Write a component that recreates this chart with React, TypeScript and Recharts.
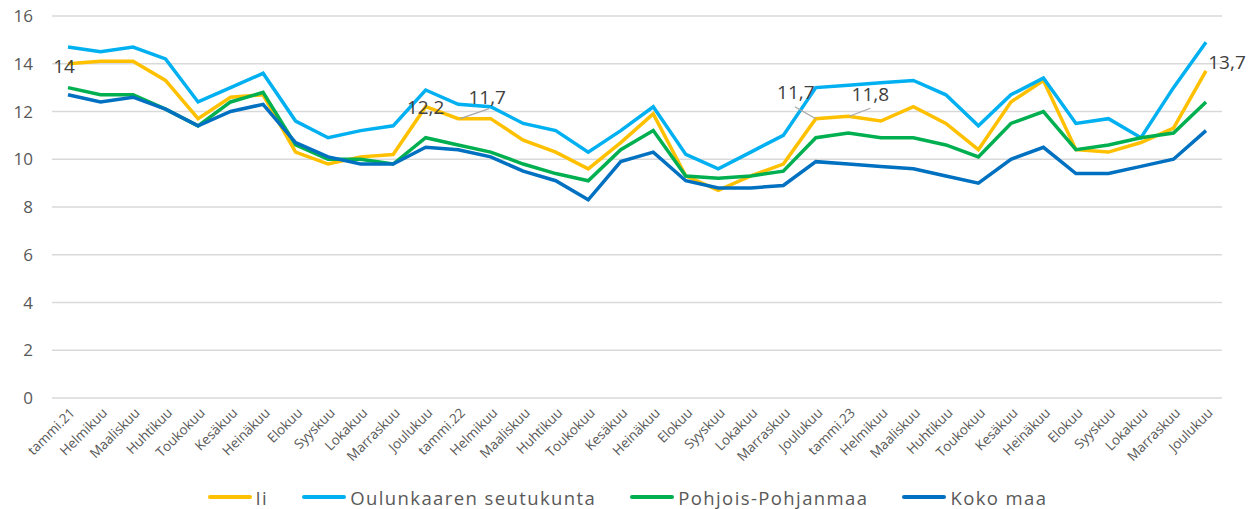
import React from "react";
import { LineChart, Line, XAxis, YAxis, CartesianGrid, Legend, LabelList } from "recharts";

const months = [
  "tammi.21", "Helmikuu", "Maaliskuu", "Huhtikuu", "Toukokuu", "Kesäkuu", "Heinäkuu", "Elokuu", "Syyskuu", "Lokakuu", "Marraskuu", "Joulukuu",
  "tammi.22", "Helmikuu", "Maaliskuu", "Huhtikuu", "Toukokuu", "Kesäkuu", "Heinäkuu", "Elokuu", "Syyskuu", "Lokakuu", "Marraskuu", "Joulukuu",
  "tammi.23", "Helmikuu", "Maaliskuu", "Huhtikuu", "Toukokuu", "Kesäkuu", "Heinäkuu", "Elokuu", "Syyskuu", "Lokakuu", "Marraskuu", "Joulukuu",
];

const ii = [
  14.0, 14.1, 14.1, 13.3, 11.7, 12.6, 12.7, 10.3, 9.8, 10.1, 10.2, 12.2,
  11.7, 11.7, 10.8, 10.3, 9.6, 10.7, 11.9, 9.3, 8.7, 9.3, 9.8, 11.7,
  11.8, 11.6, 12.2, 11.5, 10.4, 12.4, 13.3, 10.4, 10.3, 10.7, 11.3, 13.7,
];
const oulunkaari = [
  14.7, 14.5, 14.7, 14.2, 12.4, 13.0, 13.6, 11.6, 10.9, 11.2, 11.4, 12.9,
  12.3, 12.2, 11.5, 11.2, 10.3, 11.2, 12.2, 10.2, 9.6, 10.3, 11.0, 13.0,
  13.1, 13.2, 13.3, 12.7, 11.4, 12.7, 13.4, 11.5, 11.7, 10.9, 13.0, 14.9,
];
const pohjoisPohjanmaa = [
  13.0, 12.7, 12.7, 12.1, 11.4, 12.4, 12.8, 10.6, 10.0, 10.0, 9.8, 10.9,
  10.6, 10.3, 9.8, 9.4, 9.1, 10.4, 11.2, 9.3, 9.2, 9.3, 9.5, 10.9,
  11.1, 10.9, 10.9, 10.6, 10.1, 11.5, 12.0, 10.4, 10.6, 10.9, 11.1, 12.4,
];
const kokoMaa = [
  12.7, 12.4, 12.6, 12.1, 11.4, 12.0, 12.3, 10.7, 10.1, 9.8, 9.8, 10.5,
  10.4, 10.1, 9.5, 9.1, 8.3, 9.9, 10.3, 9.1, 8.8, 8.8, 8.9, 9.9,
  9.8, 9.7, 9.6, 9.3, 9.0, 10.0, 10.5, 9.4, 9.4, 9.7, 10.0, 11.2,
];
const yTicks = [0, 2, 4, 6, 8, 10, 12, 14, 16];
const labeledIndices = [0, 11, 12, 23, 24, 35];

const series = [
  { key: "ii", name: "Ii", color: "#FFC000" },
  { key: "oulunkaari", name: "Oulunkaaren seutukunta", color: "#00B0F0" },
  { key: "pp", name: "Pohjois-Pohjanmaa", color: "#00B050" },
  { key: "koko", name: "Koko maa", color: "#0070C0" },
];

const data = months.map((m, i) => ({
  month: m,
  ii: ii[i],
  oulunkaari: oulunkaari[i],
  pp: pohjoisPohjanmaa[i],
  koko: kokoMaa[i],
}));

const FONT = "'Open Sans', sans-serif";
const GREY = "#595959";

// label placement relative to the point (style only)
const labelStyle: Record<number, { dx: number; dy: number; leader?: [number, number, number, number] }> = {
  0: { dx: -4, dy: 3 },
  11: { dx: 0, dy: 1 },
  12: { dx: 29, dy: -21, leader: [2, 0, 31, -10] },
  23: { dx: -20, dy: -26, leader: [-21, -12, 0, 0] },
  24: { dx: 22, dy: -22, leader: [1, 0, 22, -8] },
  35: { dx: 21, dy: -9 },
};

const IiLabel = (props: any) => {
  const { x, y, value, index } = props;
  if (!labeledIndices.includes(index)) return null;
  const s = labelStyle[index];
  return (
    <g>
      {s.leader && (
        <line x1={x + s.leader[0]} y1={y + s.leader[1]} x2={x + s.leader[2]} y2={y + s.leader[3]} stroke="#A6A6A6" strokeWidth={1.2} />
      )}
      <text x={x + s.dx} y={y + s.dy} dy="0.35em" textAnchor="middle" fontSize={19} fontFamily={FONT} fill="#404040">
        {String(value).replace(".", ",")}
      </text>
    </g>
  );
};

const XTick = (props: any) => {
  const { x, y, payload } = props;
  return (
    <g transform={`translate(${x + 1},${y + 1})`}>
      <text x={0} y={0} dy="0.7em" textAnchor="end" transform="rotate(-45)" fontSize={13.5} fontFamily={FONT} fill={GREY}>
        {payload.value}
      </text>
    </g>
  );
};

const LegendContent = () => (
  <div style={{ display: "flex", justifyContent: "center", alignItems: "center", width: 1255, height: 24, fontFamily: FONT, fontSize: 18.5, color: GREY, letterSpacing: 1.4 }}>
    {series.map((s, i) => (
      <div key={s.key} style={{ display: "flex", alignItems: "center", marginLeft: i === 0 ? 0 : 34 }}>
        <div style={{ width: 44, height: 4, background: s.color, borderRadius: 2, marginRight: 4 }} />
        <span>{s.name}</span>
      </div>
    ))}
  </div>
);

export default function App() {
  return (
    <div style={{ position: "absolute", left: 0, top: 0, width: 1255, height: 509, background: "#fff" }}>
      <LineChart width={1255} height={509} data={data} margin={{ top: 16, right: 33, left: 0, bottom: 0 }}>
        <CartesianGrid horizontal vertical={false} stroke="#D9D9D9" strokeWidth={1.5} />
        <XAxis dataKey="month" interval={0} axisLine={false} tickLine={false} height={87} padding={{ left: 16, right: 16 }} tick={<XTick />} />
        <YAxis domain={[0, 16]} ticks={yTicks} width={52} axisLine={false} tickLine={false} tickSize={0} tickMargin={19}
          tick={{ fontSize: 17, fontFamily: FONT, fill: GREY }} />
        <Legend verticalAlign="bottom" wrapperStyle={{ left: 0, width: 1255 }} content={<LegendContent />} />
        {series.map((s) => (
          <Line key={s.key} type="linear" dataKey={s.key} name={s.name} stroke={s.color} strokeWidth={3.5} dot={false} isAnimationActive={false}>
            {s.key === "ii" && <LabelList dataKey="ii" content={<IiLabel />} />}
          </Line>
        ))}
      </LineChart>
    </div>
  );
}
